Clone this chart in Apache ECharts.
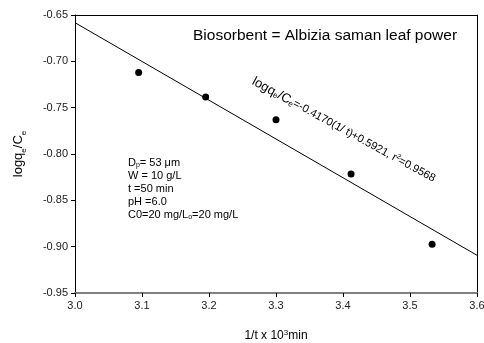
<!DOCTYPE html>
<html><head><meta charset="utf-8">
<script src="https://cdn.jsdelivr.net/npm/echarts@6/dist/echarts.min.js"></script>
<style>html,body{margin:0;padding:0;background:#fff}#c{width:484px;height:343px}</style>
</head><body><div id="c"></div>
<script>
var xValues = [3.095, 3.195, 3.300, 3.412, 3.533];
var yValues = [-0.712, -0.7385, -0.763, -0.8215, -0.8975];
var fitX = [3.0, 3.6];
var fitY = [-0.6583, -0.9093];
var xTicks = [3.0, 3.1, 3.2, 3.3, 3.4, 3.5, 3.6];
var yTicks = [-0.95, -0.90, -0.85, -0.80, -0.75, -0.70, -0.65];

var FONT = 'Liberation Sans, Arial, sans-serif';
var chart = echarts.init(document.getElementById('c'), null, {renderer: 'canvas'});
var sub = {fontSize: 8, verticalAlign: 'bottom', fontFamily: FONT, color: '#000', padding: [0,0,-3,0]};
chart.setOption({
  animation: false,
  grid: {left: 75, right: 7, top: 15, bottom: 50, containLabel: false, outerBoundsMode: 'none'},
  xAxis: [{
    type: 'value', min: 3.0, max: 3.6, interval: 0.1,
    name: '1/t x 10{sup|3}min', nameLocation: 'middle', nameGap: 36,
    nameTextStyle: {fontFamily: FONT, fontSize: 12, color: '#000',
      rich: {sup: {fontSize: 8, verticalAlign: 'top', padding: [0,0,6,0], fontFamily: FONT, color: '#000'}}},
    axisLine: {lineStyle: {color: '#808080', width: 2}},
    axisTick: {show: true, length: 4, lineStyle: {color: '#000'}},
    axisLabel: {fontFamily: FONT, fontSize: 11, color: '#222', margin: 7,
      formatter: function (v) { return v.toFixed(1); }},
    splitLine: {show: false}
  }, {
    type: 'value', min: 3.0, max: 3.6, position: 'top',
    axisLine: {show: true, lineStyle: {color: '#000', width: 1}},
    axisTick: {show: false}, axisLabel: {show: false}, splitLine: {show: false}
  }],
  yAxis: [{
    type: 'value', min: -0.95, max: -0.65, interval: 0.05,
    name: 'logq{sub|e}/C{sub|e}', nameLocation: 'middle', nameGap: 50,
    nameTextStyle: {fontFamily: FONT, fontSize: 13, color: '#000', rich: {sub: sub}},
    axisLine: {show: true, lineStyle: {color: '#000', width: 1}},
    axisTick: {show: true, length: 4, lineStyle: {color: '#000'}},
    axisLabel: {fontFamily: FONT, fontSize: 11, color: '#222', margin: 7,
      formatter: function (v) { return v.toFixed(2); }},
    splitLine: {show: false}
  }, {
    type: 'value', min: -0.95, max: -0.65, position: 'right',
    axisLine: {show: true, lineStyle: {color: '#000', width: 1}},
    axisTick: {show: false}, axisLabel: {show: false}, splitLine: {show: false}
  }],
  series: [{
    type: 'scatter',
    data: xValues.map(function (x, i) { return [x, yValues[i]]; }),
    symbol: 'circle', symbolSize: 7,
    itemStyle: {color: '#000', opacity: 1}
  }, {
    type: 'line',
    data: fitX.map(function (x, i) { return [x, fitY[i]]; }),
    symbol: 'none',
    lineStyle: {color: '#000', width: 1}
  }],
  graphic: [{
    type: 'text', left: 193, top: 28,
    style: {text: 'Biosorbent = Albizia saman leaf power', fontFamily: FONT, fontSize: 15.5, fill: '#000'}
  }, {
    type: 'text', x: 256, y: 75, rotation: -Math.PI * 28.5 / 180,
    style: {
      text: 'logq{s|e}/C{s|e}{m|=-0.4170(1/ t)+0.5921, r}{p|2}{m|=0.9568}',
      fontFamily: FONT, fontSize: 13, fill: '#000',
      rich: {
        s: {fontSize: 8, fontFamily: FONT, fill: '#000', verticalAlign: 'bottom'},
        m: {fontSize: 11, fontFamily: FONT, fill: '#000'},
        p: {fontSize: 7, fontFamily: FONT, fill: '#000', verticalAlign: 'top'}
      }
    }
  }, {
    type: 'text', x: 128, y: 156,
    style: {
      text: 'D{s|p}= 53 \u03bcm\nW = 10 g/L\nt =50 min\npH =6.0\nC0=20 mg/L{s|o}=20 mg/L',
      fontFamily: FONT, fontSize: 11, fill: '#000', lineHeight: 13,
      rich: {s: {fontSize: 7, fontFamily: FONT, fill: '#000', verticalAlign: 'bottom', lineHeight: 13}}
    }
  }]
});
</script></body></html>
